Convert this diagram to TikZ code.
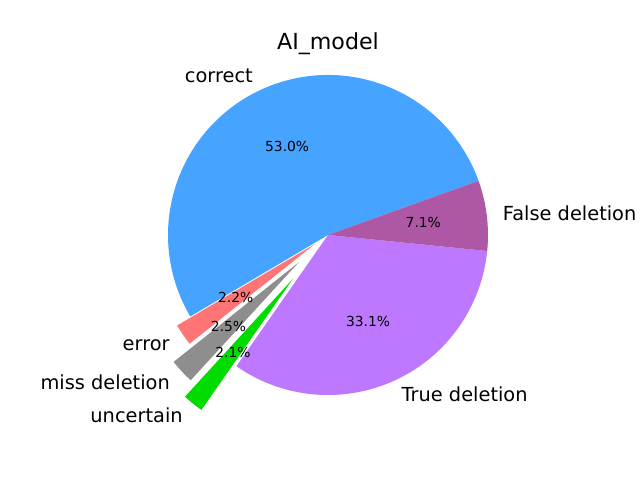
\documentclass[tikz,border=0pt]{standalone}
\usepackage{fontspec}
\setmainfont{DejaVu Sans}
\usepackage{tikz}
\definecolor{correctc}{HTML}{46A3FF}
\definecolor{falsec}{HTML}{AE57A4}
\definecolor{truec}{HTML}{BE77FF}
\definecolor{uncertainc}{HTML}{00DB00}
\definecolor{missc}{HTML}{8E8E8E}
\definecolor{errorc}{HTML}{FF7575}

\begin{document}
\begin{tikzpicture}[x=0.72bp,y=0.72bp,
  lbl/.style={font=\fontsize{14}{14}\selectfont,inner sep=0pt,text height=12.6pt,text depth=2.9pt},
  pct/.style={font=\fontsize{10}{10}\selectfont,inner sep=0pt,text height=7.6pt,text depth=2.08pt}]
\useasboundingbox (0,0) rectangle (640,480);
\coordinate (o) at (328,245);
%\path (o) ++(mid angle:explode) coordinate
\path (o) ++(214.56:16) coordinate (oerror);
\path (o) ++(223.02:40) coordinate (omiss);
\path (o) ++(231.30:56) coordinate (ouncertain);
% slices
\fill[correctc] (o) -- ++(19.8:160) arc[start angle=19.8,end angle=210.6,radius=160] -- cycle;
\fill[errorc] (oerror) -- ++(210.6:160) arc[start angle=210.6,end angle=218.52,radius=160] -- cycle;
\fill[missc] (omiss) -- ++(218.52:160) arc[start angle=218.52,end angle=227.52,radius=160] -- cycle;
\fill[uncertainc] (ouncertain) -- ++(227.52:160) arc[start angle=227.52,end angle=235.08,radius=160] -- cycle;
\fill[truec] (o) -- ++(235.08:160) arc[start angle=235.08,end angle=354.24,radius=160] -- cycle;
\fill[falsec] (o) -- ++(354.24:160) arc[start angle=354.24,end angle=379.8,radius=160] -- cycle;
% labels
\path (o) ++(115.2:176) node(lcorrect)[lbl,anchor=east]{correct};
\path (oerror) ++(214.56:176) node(lerror)[lbl,anchor=east]{error};
\path (omiss) ++(223.02:176) node(lmiss)[lbl,anchor=east]{miss deletion};
\path (ouncertain) ++(231.30:176) node(luncertain)[lbl,anchor=east]{uncertain};
\path (o) ++(294.66:176) node(ltrue)[lbl,anchor=west]{True deletion};
\path (o) ++(7.02:176) node(lfalse)[lbl,anchor=west]{False deletion};
% percentages
\path (o) ++(115.2:96) node(pcorrect)[pct]{53.0\%};
\path (oerror) ++(214.56:96) node(perror)[pct]{2.2\%};
\path (omiss) ++(223.02:96) node(pmiss)[pct]{2.5\%};
\path (ouncertain) ++(231.30:96) node(puncertain)[pct]{2.1\%};
\path (o) ++(294.66:96) node(ptrue)[pct]{33.1\%};
\path (o) ++(7.02:96) node(pfalse)[pct]{7.1\%};
% title
\path (328,430) node(title)[anchor=base,font=\fontsize{16}{16}\selectfont]{AI\_model};
\end{tikzpicture}
\end{document}
